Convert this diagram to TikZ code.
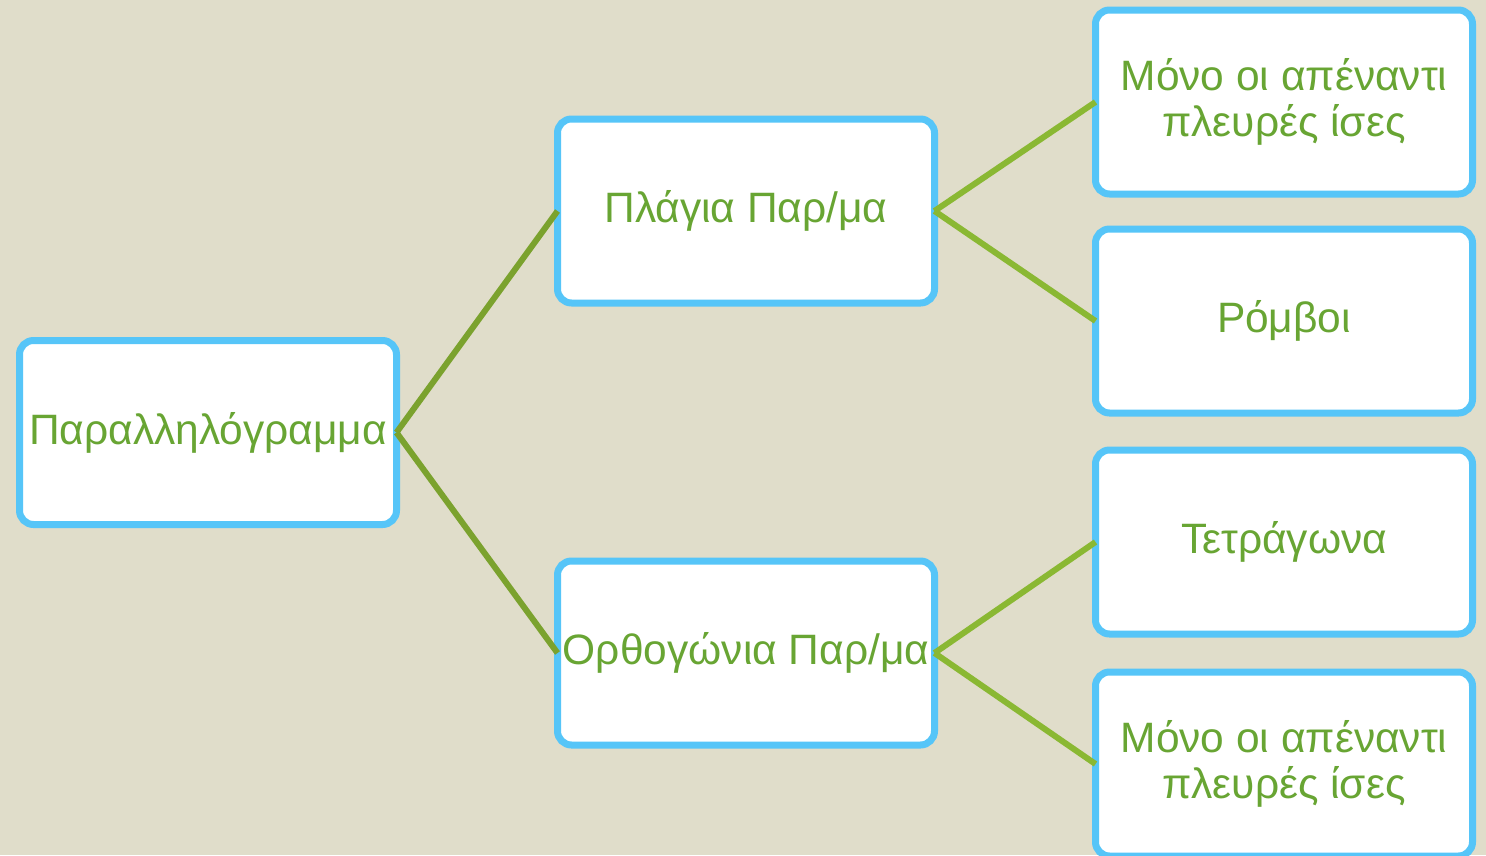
\documentclass[tikz,border=0pt]{standalone}
\usepackage{fontspec}
\setmainfont{Liberation Sans}
\definecolor{bgcol}{HTML}{E0DDCA}
\definecolor{boxblue}{HTML}{56C5F8}
\definecolor{txtgreen}{HTML}{68A533}
\definecolor{lineA}{HTML}{7BA22E}
\definecolor{lineB}{HTML}{8AB833}
\begin{document}
\begin{tikzpicture}[x=1pt,y=-1pt,
  box/.style={draw=boxblue, line width=7pt, fill=white, rounded corners=14pt,
    minimum width=377pt, minimum height=184pt, text=txtgreen,
    font=\fontsize{42.5}{46}\selectfont, align=center, inner sep=0pt, outer sep=0pt},
  linkA/.style={draw=lineA, line width=6pt},
  linkB/.style={draw=lineB, line width=6pt}]
\fill[bgcol] (0,0) rectangle (1486,855);
\useasboundingbox (0,0) rectangle (1486,855);
\node[box] (A) at (208,432.5) {\raisebox{-2pt}{Παραλληλόγραμμα}};
\node[box] (B) at (746,211) {\raisebox{-2pt}{Πλάγια Παρ/μα}};
\node[box] (C) at (746,653) {\raisebox{-2pt}{Ορθογώνια Παρ/μα}};
\node[box] (D1) at (1284,102) {Μόνο οι απέναντι\\πλευρές ίσες};
\node[box] (D2) at (1284,321) {\raisebox{-2pt}{Ρόμβοι}};
\node[box] (D3) at (1284,542) {\raisebox{-2pt}{Τετράγωνα}};
\node[box] (D4) at (1284,764) {Μόνο οι απέναντι\\πλευρές ίσες};
\draw[linkA] (A.east) -- (B.west);
\draw[linkA] (A.east) -- (C.west);
\draw[linkB] (B.east) -- (D1.west);
\draw[linkB] (B.east) -- (D2.west);
\draw[linkB] (C.east) -- (D3.west);
\draw[linkB] (C.east) -- (D4.west);
\end{tikzpicture}
\end{document}
